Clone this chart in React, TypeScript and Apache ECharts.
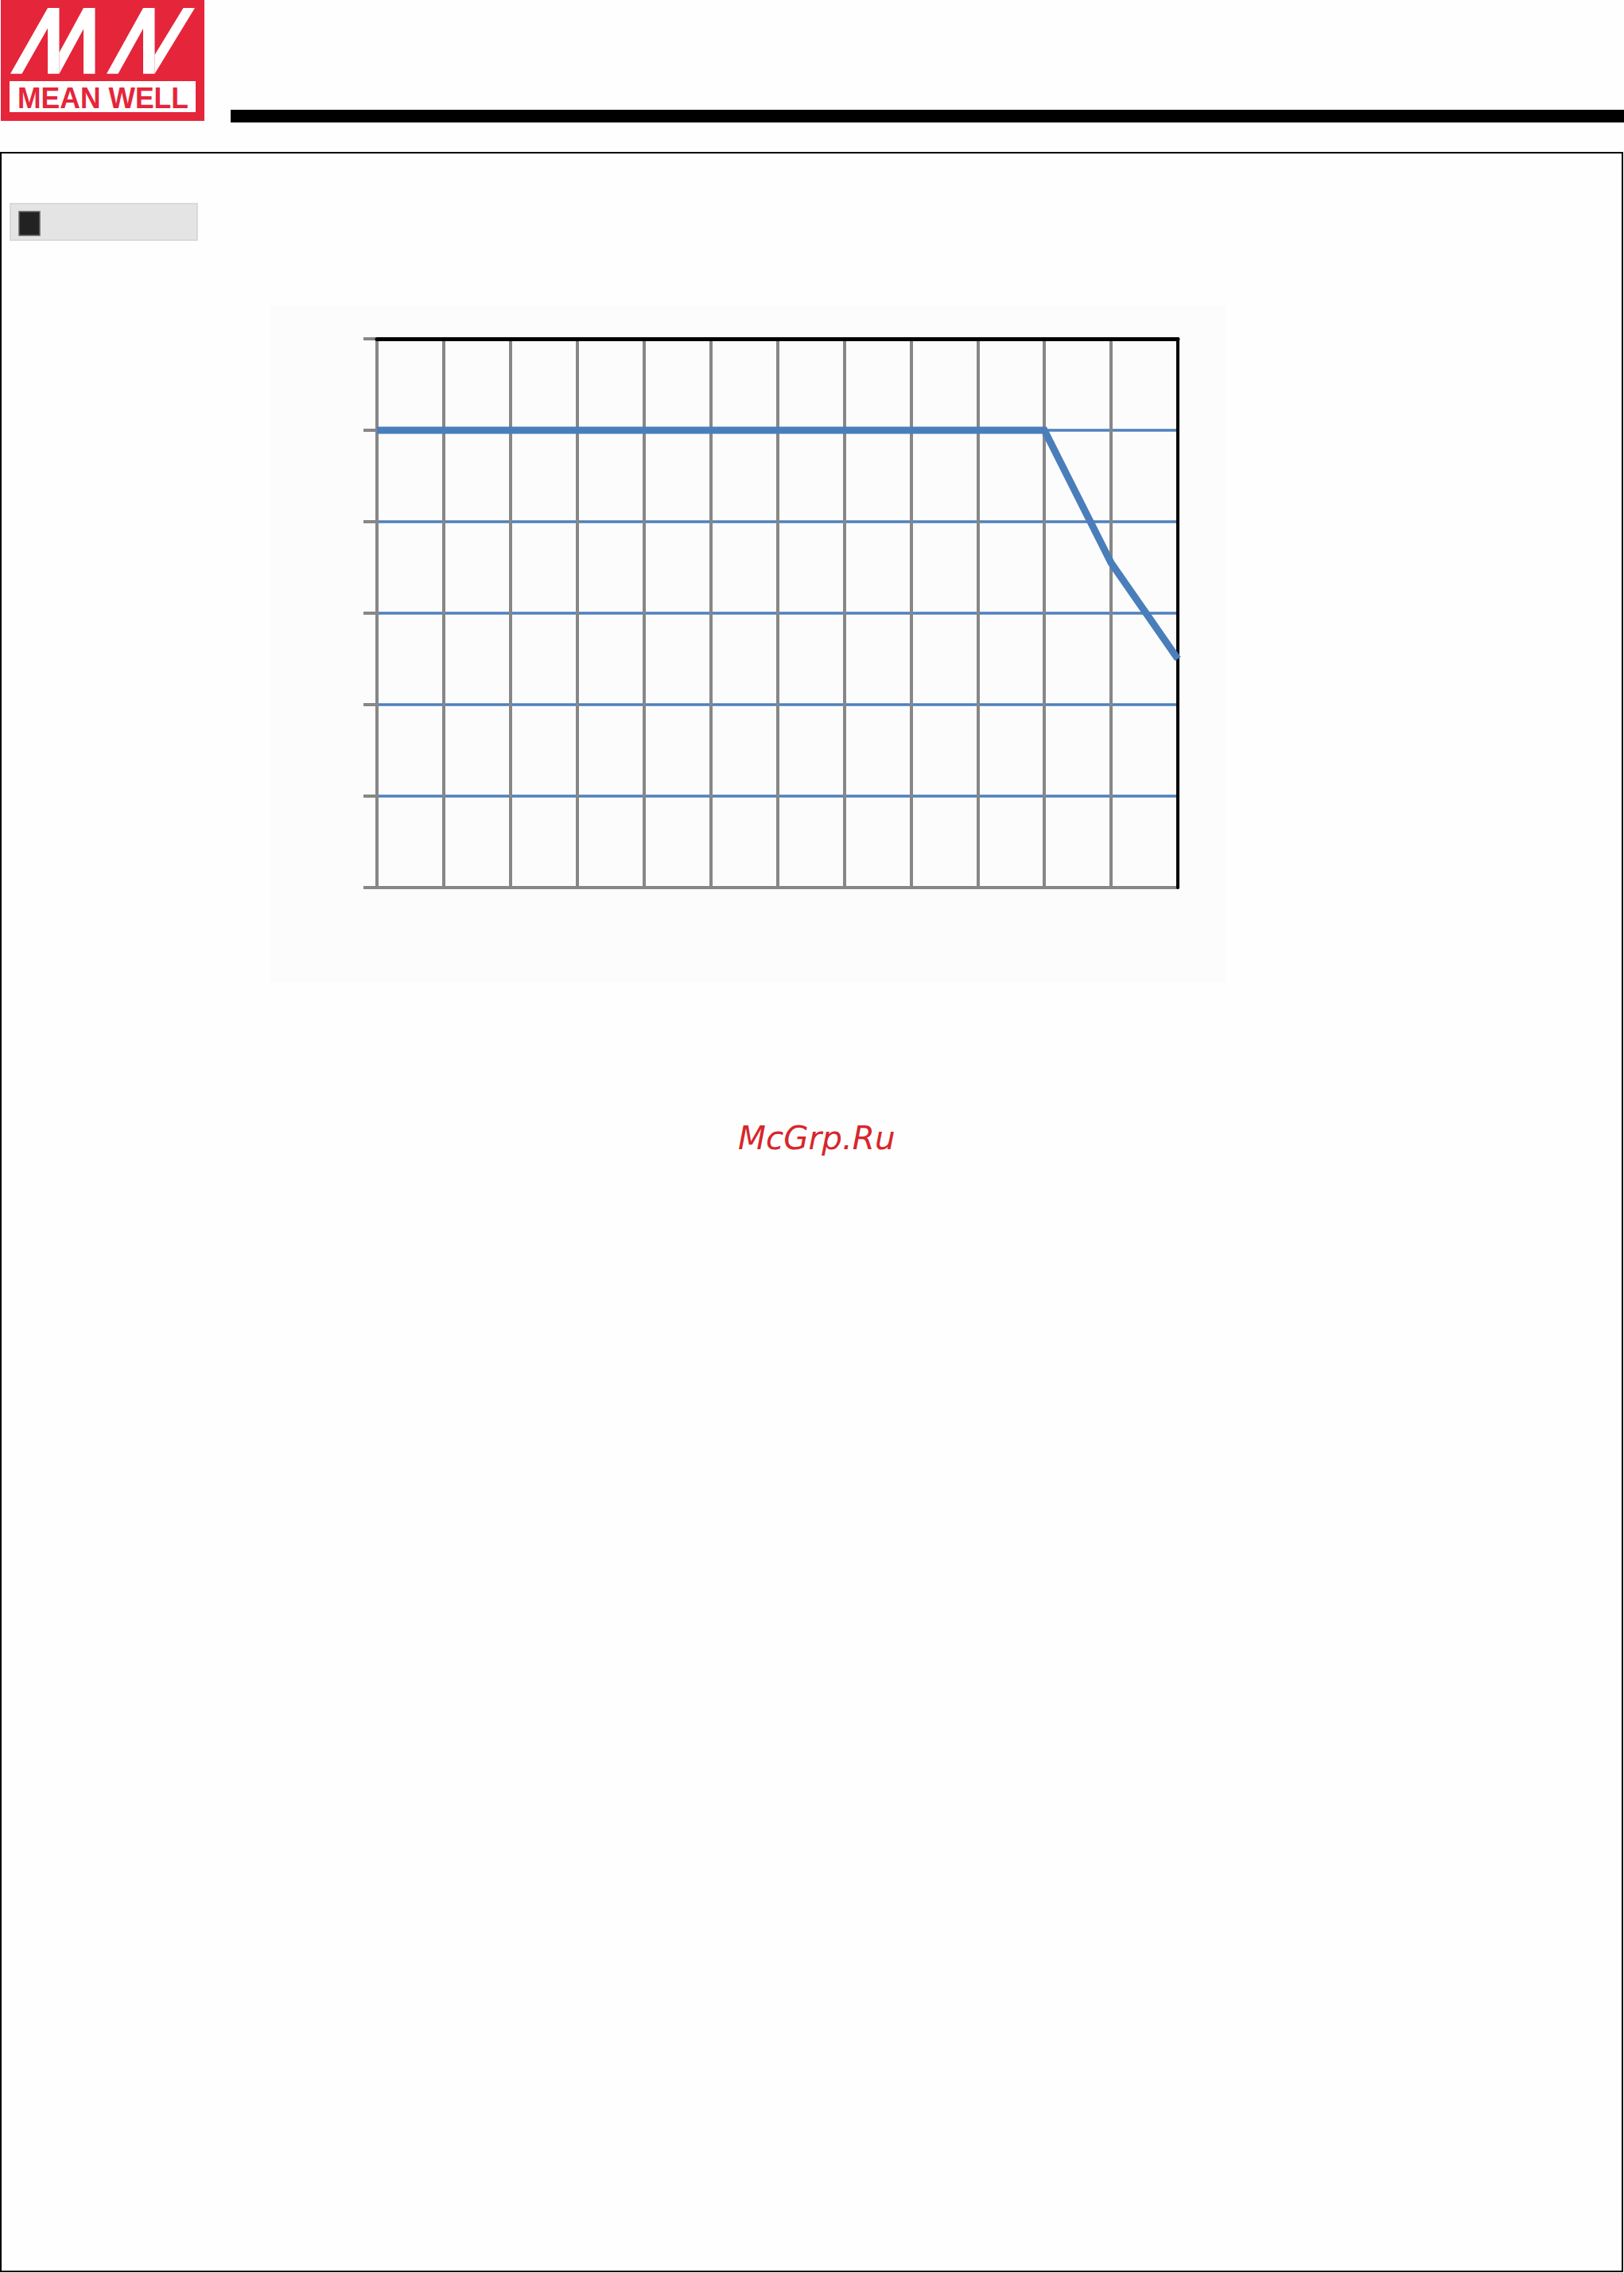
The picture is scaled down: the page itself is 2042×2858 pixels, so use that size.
import React, { useEffect, useRef } from "react";
import * as echarts from "echarts";

// Derating curve (no labels are printed in the reference)
const deratingX = [0, 10, 11, 12];
const deratingLoad = [100, 100, 71, 50];
const xRange = [0, 12];
const xStep = 1;
const yRange = [0, 120];
const yStep = 20;

export default function App() {
  const ref = useRef<HTMLDivElement>(null);

  useEffect(() => {
    const chart = echarts.init(ref.current!, null, { renderer: "svg" });
    const gray = "#878787";
    const gridBlue = "#4f81bd";
    const lineBlue = "#4a7ebb";
    const red = "#e5253a";

    const poly = (pts: number[][]) => ({
      type: "polygon",
      shape: { points: pts },
      style: { fill: "#ffffff" },
      z: 5,
    });

    chart.setOption({
      animation: false,
      backgroundColor: "#fefefe",
      grid: { left: 474, top: 426, width: 1007, height: 690, containLabel: false },
      xAxis: [
        {
          type: "value",
          min: xRange[0],
          max: xRange[1],
          interval: xStep,
          position: "bottom",
          z: 1,
          axisLine: { show: true, lineStyle: { color: gray, width: 4 } },
          axisTick: { show: false },
          axisLabel: { show: false },
          splitLine: { show: true, lineStyle: { color: gray, width: 4 } },
        },
        {
          type: "value",
          min: xRange[0],
          max: xRange[1],
          interval: xStep,
          position: "top",
          z: 3,
          axisLine: { show: true, onZero: false, lineStyle: { color: "#000000", width: 5 } },
          axisTick: { show: false },
          axisLabel: { show: false },
          splitLine: { show: false },
        },
      ],
      yAxis: [
        {
          type: "value",
          min: yRange[0],
          max: yRange[1],
          interval: yStep,
          position: "left",
          z: 0,
          axisLine: { show: true, onZero: false, lineStyle: { color: gray, width: 4 } },
          axisTick: { show: true, length: 17, lineStyle: { color: gray, width: 4 } },
          axisLabel: { show: false },
          splitLine: { show: true, lineStyle: { color: gridBlue, width: 3.5 } },
        },
        {
          type: "value",
          min: yRange[0],
          max: yRange[1],
          interval: yStep,
          position: "right",
          z: 3,
          axisLine: { show: true, onZero: false, lineStyle: { color: "#000000", width: 4 } },
          axisTick: { show: false },
          axisLabel: { show: false },
          splitLine: { show: false },
        },
      ],
      series: [
        {
          type: "line",
          xAxisIndex: 0,
          yAxisIndex: 0,
          data: deratingX.map((x, i) => [x, deratingLoad[i]]),
          showSymbol: false,
          symbol: "none",
          z: 4,
          lineStyle: { color: lineBlue, width: 9, cap: "butt", join: "miter" },
        },
      ],
      graphic: {
        elements: [
          // chart background
          {
            type: "rect",
            z: -1,
            shape: { x: 340, y: 385, width: 1201, height: 850 },
            style: { fill: "#fcfcfc" },
          },
          // page frame
          {
            type: "rect",
            shape: { x: 1, y: 192, width: 2039, height: 2664 },
            style: { fill: "none", stroke: "#000000", lineWidth: 2 },
          },
          // header bar
          {
            type: "rect",
            shape: { x: 290, y: 138, width: 1752, height: 16 },
            style: { fill: "#000000" },
          },
          // legend box
          {
            type: "rect",
            shape: { x: 13, y: 256, width: 235, height: 46 },
            style: { fill: "#e4e4e4", stroke: "#d2d2d2", lineWidth: 1.5 },
          },
          {
            type: "rect",
            shape: { x: 24, y: 266, width: 26, height: 30 },
            style: { fill: "#222222", stroke: "#666666", lineWidth: 1.5 },
          },
          // logo
          {
            type: "rect",
            shape: { x: 1, y: 0, width: 256, height: 152 },
            style: { fill: red },
            z: 4,
          },
          {
            type: "rect",
            shape: { x: 12, y: 102, width: 234, height: 39 },
            style: { fill: "#ffffff" },
            z: 5,
          },
          poly([[13, 92.7], [60, 10], [74.5, 10], [74.5, 92.7], [60, 92.7], [60, 35.5], [27.5, 92.7]]),
          poly([[74.5, 66], [105, 10], [119.5, 10], [119.5, 92.7], [105, 92.7], [105, 36.6], [74.5, 92.7]]),
          poly([[134, 92.7], [180, 10], [194.5, 10], [194.5, 92.7], [180, 92.7], [180, 36], [148.5, 92.7]]),
          poly([[194.5, 69], [230.5, 10], [245, 10], [194.5, 92.7]]),
          {
            type: "text",
            x: 22,
            y: 123,
            scaleX: 0.96,
            z: 6,
            style: {
              text: "MEAN WELL",
              x: 0,
              y: 0,
              fill: red,
              font: "bold 37px 'Liberation Sans', Arial, sans-serif",
              textAlign: "left",
              textVerticalAlign: "middle",
            },
          },
          // watermark
          {
            type: "text",
            z: 10,
            style: {
              text: "McGrp.Ru",
              x: 928,
              y: 1431,
              fill: "#d8262b",
              font: "italic 40.5px 'DejaVu Sans', sans-serif",
              textAlign: "left",
              textVerticalAlign: "middle",
            },
          },
        ],
      },
    });

    return () => chart.dispose();
  }, []);

  return (
    <div
      ref={ref}
      style={{ position: "absolute", left: 0, top: 0, width: 2042, height: 2858 }}
    />
  );
}
